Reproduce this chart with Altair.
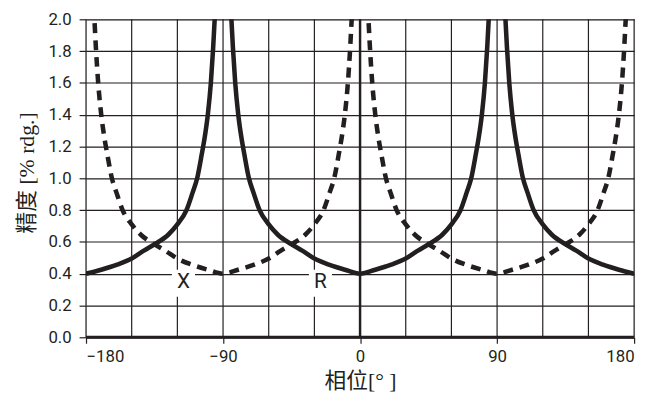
import altair as alt
import pandas as pd

INK = "#231f20"
TICK_FONT = "Liberation Sans Narrow, Roboto, Liberation Sans, sans-serif"
TITLE_FONT = "Liberation Serif, Noto Sans CJK SC, serif"

# ---- data ----
SOLID_PHASE = [-180, -170, -160, -150, -142, -135, -126, -120, -114, -110,
               -107, -104, -102, -100, -98, -96.5, -95.5, -95,
               -85, -84.5, -83.5, -82, -80, -78, -76, -73, -70, -66,
               -60, -54, -45, -38, -30, -20, -10, 0, 10, 20, 30, 38, 45, 54,
               60, 66, 70, 73, 76, 78, 80, 82, 83.5, 84.5, 85,
               95, 95.5, 96.5, 98, 100, 102, 104, 107, 110, 114, 120, 126,
               135, 142, 150, 160, 170, 180]
SOLID_VALUE = [0.40, 0.425, 0.455, 0.495, 0.545, 0.585, 0.645, 0.71, 0.80, 0.91,
               1.0, 1.15, 1.26, 1.4, 1.6, 1.82, 2.0, 2.08,
               2.08, 2.0, 1.82, 1.6, 1.4, 1.26, 1.15, 1.0, 0.91, 0.80,
               0.71, 0.645, 0.585, 0.545, 0.495, 0.455, 0.425, 0.40, 0.425, 0.455, 0.495, 0.545, 0.585, 0.645,
               0.71, 0.80, 0.91, 1.0, 1.15, 1.26, 1.4, 1.6, 1.82, 2.0, 2.08,
               2.08, 2.0, 1.82, 1.6, 1.4, 1.26, 1.15, 1.0, 0.91, 0.80, 0.71, 0.645,
               0.585, 0.545, 0.495, 0.455, 0.425, 0.40]
SOLID_BRANCH = ["s1"] * 18 + ["s2"] * 35 + ["s3"] * 18

DASH_PHASE = [-175, -174.5, -173.5, -172, -170, -168, -166, -163, -160, -156,
              -150, -144, -135, -128, -120, -110, -100, -90,
              -80, -70, -60, -52, -45, -36, -30, -24, -20, -17,
              -14, -12, -10, -8, -6.5, -5.5, -5,
              5, 5.5, 6.5, 8, 10, 12, 14, 17, 20, 24,
              30, 36, 45, 52, 60, 70, 80, 90,
              100, 110, 120, 128, 135, 144, 150, 156, 160, 163,
              166, 168, 170, 172, 173.5, 174.5, 175]
DASH_VALUE = [2.08, 2.0, 1.82, 1.6, 1.4, 1.26, 1.15, 1.0, 0.91, 0.80,
              0.71, 0.645, 0.585, 0.545, 0.495, 0.455, 0.425, 0.40,
              0.425, 0.455, 0.495, 0.545, 0.585, 0.645, 0.71, 0.80, 0.91, 1.0,
              1.15, 1.26, 1.4, 1.6, 1.82, 2.0, 2.08,
              2.08, 2.0, 1.82, 1.6, 1.4, 1.26, 1.15, 1.0, 0.91, 0.80,
              0.71, 0.645, 0.585, 0.545, 0.495, 0.455, 0.425, 0.40,
              0.425, 0.455, 0.495, 0.545, 0.585, 0.645, 0.71, 0.80, 0.91, 1.0,
              1.15, 1.26, 1.4, 1.6, 1.82, 2.0, 2.08]
DASH_BRANCH = ["d1"] * 35 + ["d2"] * 35

LABELS = ["X", "R"]
LABEL_PHASE = [-116, -26]
LABEL_VALUE = [0.345, 0.345]

X_TICKS = [-180, -90, 0, 90, 180]
X_GRID = [-180, -150, -120, -90, -60, -30, 0, 30, 60, 90, 120, 150, 180]
Y_TICKS = [0.0, 0.2, 0.4, 0.6, 0.8, 1.0, 1.2, 1.4, 1.6, 1.8, 2.0]

solid = pd.DataFrame({"phase": SOLID_PHASE, "value": SOLID_VALUE, "branch": SOLID_BRANCH})
dash = pd.DataFrame({"phase": DASH_PHASE, "value": DASH_VALUE, "branch": DASH_BRANCH})
labels = pd.DataFrame({"label": LABELS, "phase": LABEL_PHASE, "value": LABEL_VALUE})
labels["x0"] = labels["phase"] - 7.6
labels["x1"] = labels["phase"] + 7.6
labels["y0"] = labels["value"] - 0.09
labels["y1"] = labels["value"] + 0.08
vgrid = pd.DataFrame({"phase": X_GRID})

xs = alt.Scale(domain=[-180, 180], nice=False, zero=False)
ys = alt.Scale(domain=[0, 2.0], nice=False)

x_axis = alt.Axis(values=X_TICKS, grid=False, domain=False, tickSize=6, tickWidth=1.2,
                  tickColor=INK, labelFont=TICK_FONT, labelFontSize=17, labelColor=INK,
                  labelPadding=6, title="相位[° ]", titleFont=TITLE_FONT, titleFontSize=22,
                  titleFontWeight="normal", titleColor=INK, titleY=51,
                  titleBaseline="alphabetic")
y_axis = alt.Axis(values=Y_TICKS, format=".1f", grid=True, gridColor=INK, gridWidth=1.2,
                  gridOpacity=1, domain=False, tickSize=7, tickWidth=1.2, tickColor=INK,
                  labelFont=TICK_FONT, labelFontSize=17, labelColor=INK, labelPadding=8,
                  title="精度 [% rdg.]", titleFont=TITLE_FONT, titleFontSize=22,
                  titleFontWeight="normal", titleColor=INK, titleAngle=270,
                  titleX=-60, titleY=155, titleAlign="center", titleBaseline="middle")


def X(field):
    return alt.X(field, scale=xs, axis=x_axis)


def Y(field):
    return alt.Y(field, scale=ys, axis=y_axis)


base_solid = alt.Chart(solid).mark_line(color=INK, strokeWidth=4.6, interpolate="monotone",
                                        clip=True, strokeCap="butt").encode(
    x=X("phase:Q"), y=Y("value:Q"), detail="branch:N",
)

dashed = alt.Chart(dash).mark_line(color=INK, strokeWidth=4.6, interpolate="monotone",
                                   clip=True, strokeDash=[10, 7], strokeCap="butt").encode(
    x=X("phase:Q"), y=Y("value:Q"), detail="branch:N",
)

grid_rules = alt.Chart(vgrid).mark_rule(color=INK, strokeWidth=1.2).encode(
    x=X("phase:Q"),
)

zero_rule = alt.Chart(pd.DataFrame({"phase": [0]})).mark_rule(color=INK, strokeWidth=2.5).encode(
    x=X("phase:Q"),
)

bottom_rule = alt.Chart(pd.DataFrame({"value": [0]})).mark_rule(color=INK, strokeWidth=3).encode(
    y=Y("value:Q"),
)

boxes = alt.Chart(labels).mark_rect(color="white").encode(
    x=X("x0:Q"), x2="x1:Q", y=Y("y0:Q"), y2="y1:Q",
)

texts = alt.Chart(labels).mark_text(font=TICK_FONT, fontSize=21, color=INK,
                                    baseline="middle", align="center").encode(
    x=X("phase:Q"), y=Y("value:Q"), text="label:N",
)

chart = alt.layer(
    base_solid, grid_rules, boxes, texts, dashed, zero_rule, bottom_rule
).properties(
    width=555, height=322,
    autosize=alt.AutoSizeParams(type="none"),
    padding={"left": 79, "top": 9, "right": 9, "bottom": 56},
).configure_view(stroke=None).configure(background="white")

chart.save("out.html", embed_options={"renderer": "svg", "actions": False})
